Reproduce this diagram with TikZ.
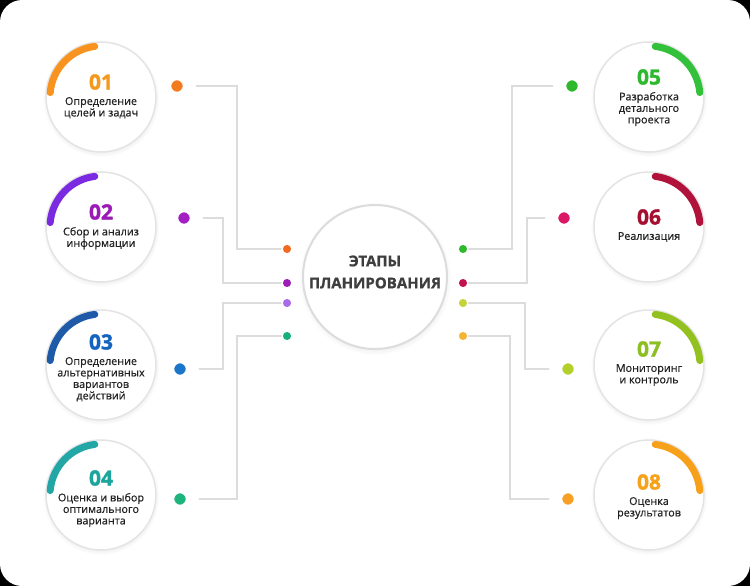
\documentclass[tikz,border=0pt]{standalone}
\usepackage{fontspec}
\setmainfont{Open Sans}
\newfontfamily\numfont[BoldFeatures={FakeBold=1.6}]{Open Sans}
\newfontfamily\titlefont[BoldFeatures={FakeBold=0.8}]{Open Sans}
\newfontfamily\lblfont[FakeBold=0.5]{Open Sans}
\usepackage{tikz}
\usetikzlibrary{positioning, shadows}
\definecolor{lineGray}{HTML}{DCDCDC}
\definecolor{ringGray}{HTML}{E4E4E4}
\definecolor{txtDark}{HTML}{222222}
\definecolor{titleGray}{HTML}{3E3E3E}
% stage colours: arc, number, big dot, small dot
\definecolor{arcOne}{HTML}{F7931E}  \definecolor{numOne}{HTML}{F39A1E}
\definecolor{dotOne}{HTML}{F47A20}  \definecolor{pinOne}{HTML}{F26A21}
\definecolor{arcTwo}{HTML}{7A2BE2}  \definecolor{numTwo}{HTML}{9A1BB6}
\definecolor{dotTwo}{HTML}{A41FC2}  \definecolor{pinTwo}{HTML}{9B1DB5}
\definecolor{arcThree}{HTML}{1F5AA8} \definecolor{numThree}{HTML}{1565C0}
\definecolor{dotThree}{HTML}{1B75C9} \definecolor{pinThree}{HTML}{A86CE8}
\definecolor{arcFour}{HTML}{22A6A6}  \definecolor{numFour}{HTML}{1BA59C}
\definecolor{dotFour}{HTML}{1DB47E}  \definecolor{pinFour}{HTML}{17B07A}
\definecolor{arcFive}{HTML}{33C03A}  \definecolor{numFive}{HTML}{2EB82E}
\definecolor{dotFive}{HTML}{2DB82D}  \definecolor{pinFive}{HTML}{2DB82D}
\definecolor{arcSix}{HTML}{B0123B}   \definecolor{numSix}{HTML}{A50F30}
\definecolor{dotSix}{HTML}{DB1866}   \definecolor{pinSix}{HTML}{C2134C}
\definecolor{arcSeven}{HTML}{92C120} \definecolor{numSeven}{HTML}{8DBE22}
\definecolor{dotSeven}{HTML}{B2CF2A} \definecolor{pinSeven}{HTML}{C3D33A}
\definecolor{arcEight}{HTML}{F7A11B} \definecolor{numEight}{HTML}{F7A21B}
\definecolor{dotEight}{HTML}{F8A024} \definecolor{pinEight}{HTML}{F6B332}
\tikzset{
  stage/.style={circle, draw=ringGray, line width=1.5pt, fill=white, minimum size=110pt, inner sep=0pt,
    circular drop shadow={shadow xshift=0pt, shadow yshift=-1.5pt, shadow scale=1.06, opacity=.18}},
  hub/.style={stage, minimum size=144pt, draw=lineGray, line width=2pt},
  arcline/.style={line width=7pt, line cap=round},
  num/.style={inner sep=0pt, font=\numfont\bfseries\fontsize{21}{21}\selectfont},
  lbl/.style={inner sep=0pt, align=center, text=txtDark, font=\lblfont\fontsize{10.8}{11.5}\selectfont},
  bigdot/.style={circle, minimum size=15pt, inner sep=0pt, draw=white, line width=3.5pt,
    circular drop shadow={shadow xshift=0pt, shadow yshift=-1pt, shadow scale=1.15, opacity=.15}},
  pin/.style={circle, minimum size=10pt, inner sep=0pt, draw=white, line width=1.5pt},
  link/.style={draw=lineGray, line width=1.3pt}
}
\def\scale{1}

\begin{document}
\begin{tikzpicture}[x=\scale pt, y=-\scale pt, line cap = round]
	\useasboundingbox (0,0) rectangle (750,586);
	\fill[black] (0,0) rectangle (750,586);
	\fill[white, rounded corners=22pt] (0,0) rectangle (750,586);

	% dots on both sides of the hub
	\node[pin, fill=pinOne]   (s1) at (287,249) {};
	\node[pin, fill=pinTwo]   (s2) at (287,283) {};
	\node[pin, fill=pinThree] (s3) at (287,303) {};
	\node[pin, fill=pinFour]  (s4) at (287,336) {};
	\node[pin, fill=pinFive]  (s5) at (463,249) {};
	\node[pin, fill=pinSix]   (s6) at (463,283) {};
	\node[pin, fill=pinSeven] (s7) at (463,303) {};
	\node[pin, fill=pinEight] (s8) at (463,336) {};

	\node[bigdot, fill=dotOne]   (d1) at (177,86) {};
	\node[bigdot, fill=dotTwo]   (d2) at (184,218) {};
	\node[bigdot, fill=dotThree] (d3) at (180,369) {};
	\node[bigdot, fill=dotFour]  (d4) at (180,499) {};
	\node[bigdot, fill=dotFive]  (d5) at (572,86) {};
	\node[bigdot, fill=dotSix]   (d6) at (564,218) {};
	\node[bigdot, fill=dotSeven] (d7) at (568,369) {};
	\node[bigdot, fill=dotEight] (d8) at (568,499) {};

	% bends of the connectors
	\coordinate (k1) at (237,0);
	\coordinate (k2) at (223,0);
	\coordinate (k3) at (223,0);
	\coordinate (k4) at (237,0);
	\coordinate (k5) at (512,0);
	\coordinate (k6) at (527,0);
	\coordinate (k7) at (525,0);
	\coordinate (k8) at (510,0);

	\draw[link] ([xshift=10pt]d1.east) -| (k1 |- s1) -- (s1.west);
	\draw[link] ([xshift=10pt]d2.east) -| (k2 |- s2) -- (s2.west);
	\draw[link] ([xshift=10pt]d3.east) -| (k3 |- s3) -- (s3.west);
	\draw[link] ([xshift=10pt]d4.east) -| (k4 |- s4) -- (s4.west);
	\draw[link] ([xshift=-10pt]d5.west) -| (k5 |- s5) -- (s5.east);
	\draw[link] ([xshift=-10pt]d6.west) -| (k6 |- s6) -- (s6.east);
	\draw[link] ([xshift=-10pt]d7.west) -| (k7 |- s7) -- (s7.east);
	\draw[link] ([xshift=-10pt]d8.west) -| (k8 |- s8) -- (s8.east);

	% the hub
	\node[hub] (hub) at (375,277) {};
	\node[inner sep=0pt, align=center, text=titleGray, font=\titlefont\bfseries\fontsize{15}{22}\selectfont] (title) at (375,272) {ЭТАПЫ\\ПЛАНИРОВАНИЯ};

	% stage circles
	\node[stage] (c1) at (101,97) {};
	\node[stage] (c2) at (101,227) {};
	\node[stage] (c3) at (101,365) {};
	\node[stage] (c4) at (101,495) {};
	\node[stage] (c5) at (649,97) {};
	\node[stage] (c6) at (649,227) {};
	\node[stage] (c7) at (649,365) {};
	\node[stage] (c8) at (649,495) {};

	\draw[arcline, arcOne]   ([shift={(175:51pt)}]c1.center) arc[start angle=175, end angle=97, radius=51pt];
	\draw[arcline, arcTwo]   ([shift={(175:51pt)}]c2.center) arc[start angle=175, end angle=97, radius=51pt];
	\draw[arcline, arcThree] ([shift={(175:51pt)}]c3.center) arc[start angle=175, end angle=97, radius=51pt];
	\draw[arcline, arcFour]  ([shift={(175:51pt)}]c4.center) arc[start angle=175, end angle=97, radius=51pt];
	\draw[arcline, arcFive]  ([shift={(83:51pt)}]c5.center) arc[start angle=83, end angle=5, radius=51pt];
	\draw[arcline, arcSix]   ([shift={(83:51pt)}]c6.center) arc[start angle=83, end angle=5, radius=51pt];
	\draw[arcline, arcSeven] ([shift={(83:51pt)}]c7.center) arc[start angle=83, end angle=5, radius=51pt];
	\draw[arcline, arcEight] ([shift={(83:51pt)}]c8.center) arc[start angle=83, end angle=5, radius=51pt];

	\node[num, text=numOne]   (n1) at (101,82)  {01};
	\node[num, text=numTwo]   (n2) at (101,212) {02};
	\node[num, text=numThree] (n3) at (101,342) {03};
	\node[num, text=numFour]  (n4) at (101,478) {04};
	\node[num, text=numFive]  (n5) at (649,77)  {05};
	\node[num, text=numSix]   (n6) at (649,217) {06};
	\node[num, text=numSeven] (n7) at (649,349) {07};
	\node[num, text=numEight] (n8) at (649,482) {08};

	\node[lbl, below=7pt of n1] (t1) {Определение\\целей и задач};
	\node[lbl, below=7pt of n2] (t2) {Сбор и анализ\\информации};
	\node[lbl, below=7pt of n3] (t3) {Определение\\альтернативных\\вариантов\\действий};
	\node[lbl, below=7pt of n4] (t4) {Оценка и выбор\\оптимального\\варианта};
	\node[lbl, below=7pt of n5] (t5) {Разработка\\детального\\проекта};
	\node[lbl, below=7pt of n6] (t6) {Реализация};
	\node[lbl, below=7pt of n7] (t7) {Мониторинг\\и контроль};
	\node[lbl, below=7pt of n8] (t8) {Оценка\\результатов};

\end{tikzpicture}
\end{document}
